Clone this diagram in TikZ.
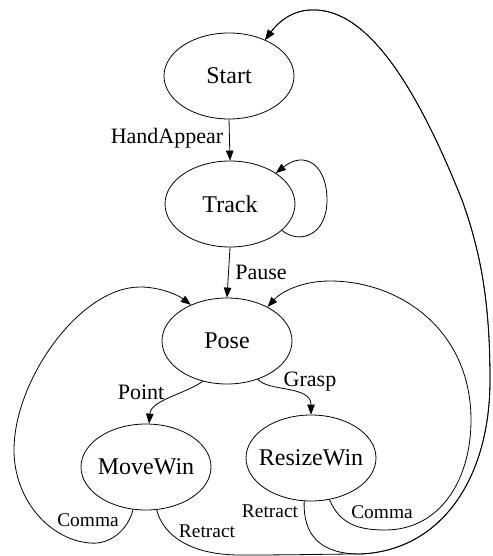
\documentclass[tikz,border=0pt]{standalone}
\usepackage{fontspec}
\setmainfont{Liberation Serif}
\newfontfamily\tmsfont{Liberation Serif}
\usetikzlibrary{shapes.geometric,arrows.meta}
\newcommand\clab[1]{\makebox[0pt]{#1}}
\begin{document}
\begin{tikzpicture}[x=1pt,y=-1pt,
  state/.style={ellipse,draw,line width=0.8pt,minimum width=130pt,minimum height=86pt,inner sep=0pt,font=\tmsfont\fontsize{24}{28}\selectfont},
  elab/.style={inner sep=0pt,font=\tmsfont\fontsize{22}{26}\selectfont},
  slab/.style={inner sep=0pt,font=\tmsfont\fontsize{19.4}{23}\selectfont},
  edge/.style={line width=0.8pt,-{Triangle[length=10pt,width=7.5pt]}}]
\useasboundingbox (0,0) rectangle (492,556);
\node[state] (Start) at (229,76) {\clab{Start}};
\node[state] (Track) at (230,204) {\clab{Track}};
\node[state] (Pose) at (227,341) {\clab{Pose}};
\node[state] (MoveWin) at (146,467) {\clab{MoveWin}};
\node[state] (ResizeWin) at (311,458) {\clab{ResizeWin}};
% labels
\node[elab] (lHand) at (167,138) {HandAppear};
\node[elab] (lPause) at (261,272) {Pause};
\node[elab] (lPoint) at (141,392) {Point};
\node[elab] (lGrasp) at (310,382) {Grasp};
\node[slab] (lComma1) at (88,520) {Comma};
\node[slab] (lRetract1) at (207,531) {Retract};
\node[slab] (lRetract2) at (270,511) {Retract};
\node[slab] (lComma2) at (382,512) {Comma};
% edges
\draw[edge] (Start.south) -- (Track.north);
\draw[edge] (Track.south) -- (Pose.north);
\draw[edge] (Track.-27) .. controls (300,245) and (327,235) .. (327,200)
  .. controls (327,165) and (305,150) .. (Track.34);
\draw[edge] (Pose.239) .. controls (185,394) and (151,400) .. (MoveWin.86);
\draw[edge] (Pose.309) .. controls (268,392) and (311,385) .. (ResizeWin.north);
% MoveWin comma
\draw[edge] (MoveWin.253) .. controls (128,530) and (110,545) .. (90,543)
  .. controls (50,540) and (14,500) .. (14,450)
  .. controls (14,380) and (80,287) .. (140,287)
  .. controls (160,287) and (178,295) .. (Pose.135);
% MoveWin retract
\draw[edge] (MoveWin.284) .. controls (163,535) and (190,555) .. (240,555)
  .. controls (300,555) and (330,554) .. (360,554)
  .. controls (440,551) and (490,480) .. (490,380)
  .. controls (490,300) and (480,250) .. (462,200)
  .. controls (420,95) and (370,8) .. (312,10)
  .. controls (290,10) and (276,25) .. (Start.45);
% ResizeWin retract
\draw[edge] (ResizeWin.261) .. controls (303,535) and (320,554) .. (360,554)
  .. controls (440,551) and (490,480) .. (490,380)
  .. controls (490,300) and (480,250) .. (462,200)
  .. controls (420,95) and (370,8) .. (312,10)
  .. controls (290,10) and (276,25) .. (Start.45);
% ResizeWin comma
\draw[edge] (ResizeWin.294) .. controls (340,525) and (360,530) .. (385,530)
  .. controls (440,530) and (471,480) .. (471,420)
  .. controls (471,330) and (400,281) .. (330,281)
  .. controls (300,281) and (280,293) .. (Pose.40);
\end{tikzpicture}
\end{document}
